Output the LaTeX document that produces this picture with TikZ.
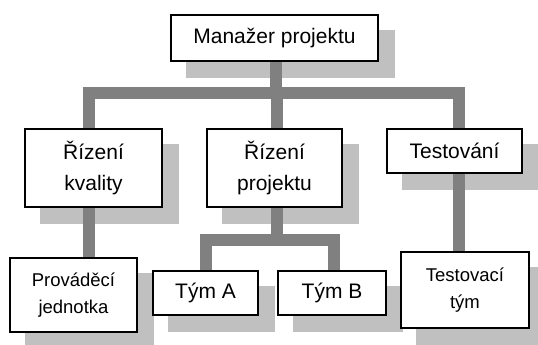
\documentclass[tikz,border=0pt]{standalone}
\usepackage{fontspec}
\setmainfont{Liberation Sans}
\pgfdeclarelayer{shadowlayer}
\pgfdeclarelayer{linklayer}
\pgfsetlayers{shadowlayer,linklayer,main}
\definecolor{linkgray}{RGB}{128,128,128}
\definecolor{shadegray}{RGB}{192,192,192}
\tikzset{
  orgbox/.style={draw=black, line width=1.8pt, fill=white, inner sep=0pt,
    align=center, font=\fontsize{21}{32}\selectfont},
  smallbox/.style={orgbox, font=\fontsize{18.5}{27.5}\selectfont},
  link/.style={draw=linkgray, line width=12pt, line join=miter},
}
\newcommand{\boxshade}[1]{%
  \fill[shadegray] ([shift={(16,16)}]#1.south west) rectangle ([shift={(16,16)}]#1.north east);}
\begin{document}
\begin{tikzpicture}[x=1pt, y=-1pt]
\useasboundingbox (0,0) rectangle (538,345);

% boxes
\node[orgbox, minimum width=207pt, minimum height=46pt] (mgr) at (274.5,38) {Manažer projektu};
\node[orgbox, minimum width=137pt, minimum height=78pt] (qual) at (93.5,168) {Řízení\\kvality};
\node[orgbox, minimum width=135pt, minimum height=78pt] (proj) at (274.5,168) {Řízení\\projektu};
\node[orgbox, minimum width=135pt, minimum height=44pt] (test) at (454.5,151) {Testování};
\node[smallbox, minimum width=127pt, minimum height=74pt] (impl) at (73.5,295) {Prováděcí\\jednotka};
\node[orgbox, minimum width=105pt, minimum height=44pt] (teamA) at (205.5,293) {Tým A};
\node[orgbox, minimum width=108pt, minimum height=44pt] (teamB) at (332,293) {Tým B};
\node[smallbox, minimum width=128pt, minimum height=76pt] (testteam) at (465,290) {Testovací\\tým};

% drop shadows
\begin{pgfonlayer}{shadowlayer}
  \boxshade{mgr}
  \boxshade{qual}
  \boxshade{proj}
  \boxshade{test}
  \boxshade{impl}
  \boxshade{teamA}
  \boxshade{teamB}
  \boxshade{testteam}
\end{pgfonlayer}

% connectors
\coordinate (bus) at (0,92.5);
\coordinate (subbus) at (0,240);
\coordinate (mgrfoot) at ([xshift=1.5pt]mgr.south);
\coordinate (qualtop) at ([xshift=-5pt]qual.north);
\coordinate (projtop) at ([xshift=2.5pt]proj.north);
\coordinate (testtop) at ([xshift=4pt]test.north);
\coordinate (teamBtop) at ([xshift=2pt]teamB.north);
\begin{pgfonlayer}{linklayer}
  \draw[link] (qualtop) |- (mgrfoot |- bus) -- (mgrfoot);
  \draw[link] (testtop) |- (mgrfoot |- bus);
  \draw[link] (projtop) -- (projtop |- bus);
  \draw[link] (qual.south -| qualtop) -- (impl.north -| qualtop);
  \draw[link] (teamA.north) |- (projtop |- subbus) -- (proj.south -| projtop);
  \draw[link] (teamBtop) |- (projtop |- subbus);
  \draw[link] (test.south -| testtop) -- (testteam.north -| testtop);
\end{pgfonlayer}
\end{tikzpicture}
\end{document}
